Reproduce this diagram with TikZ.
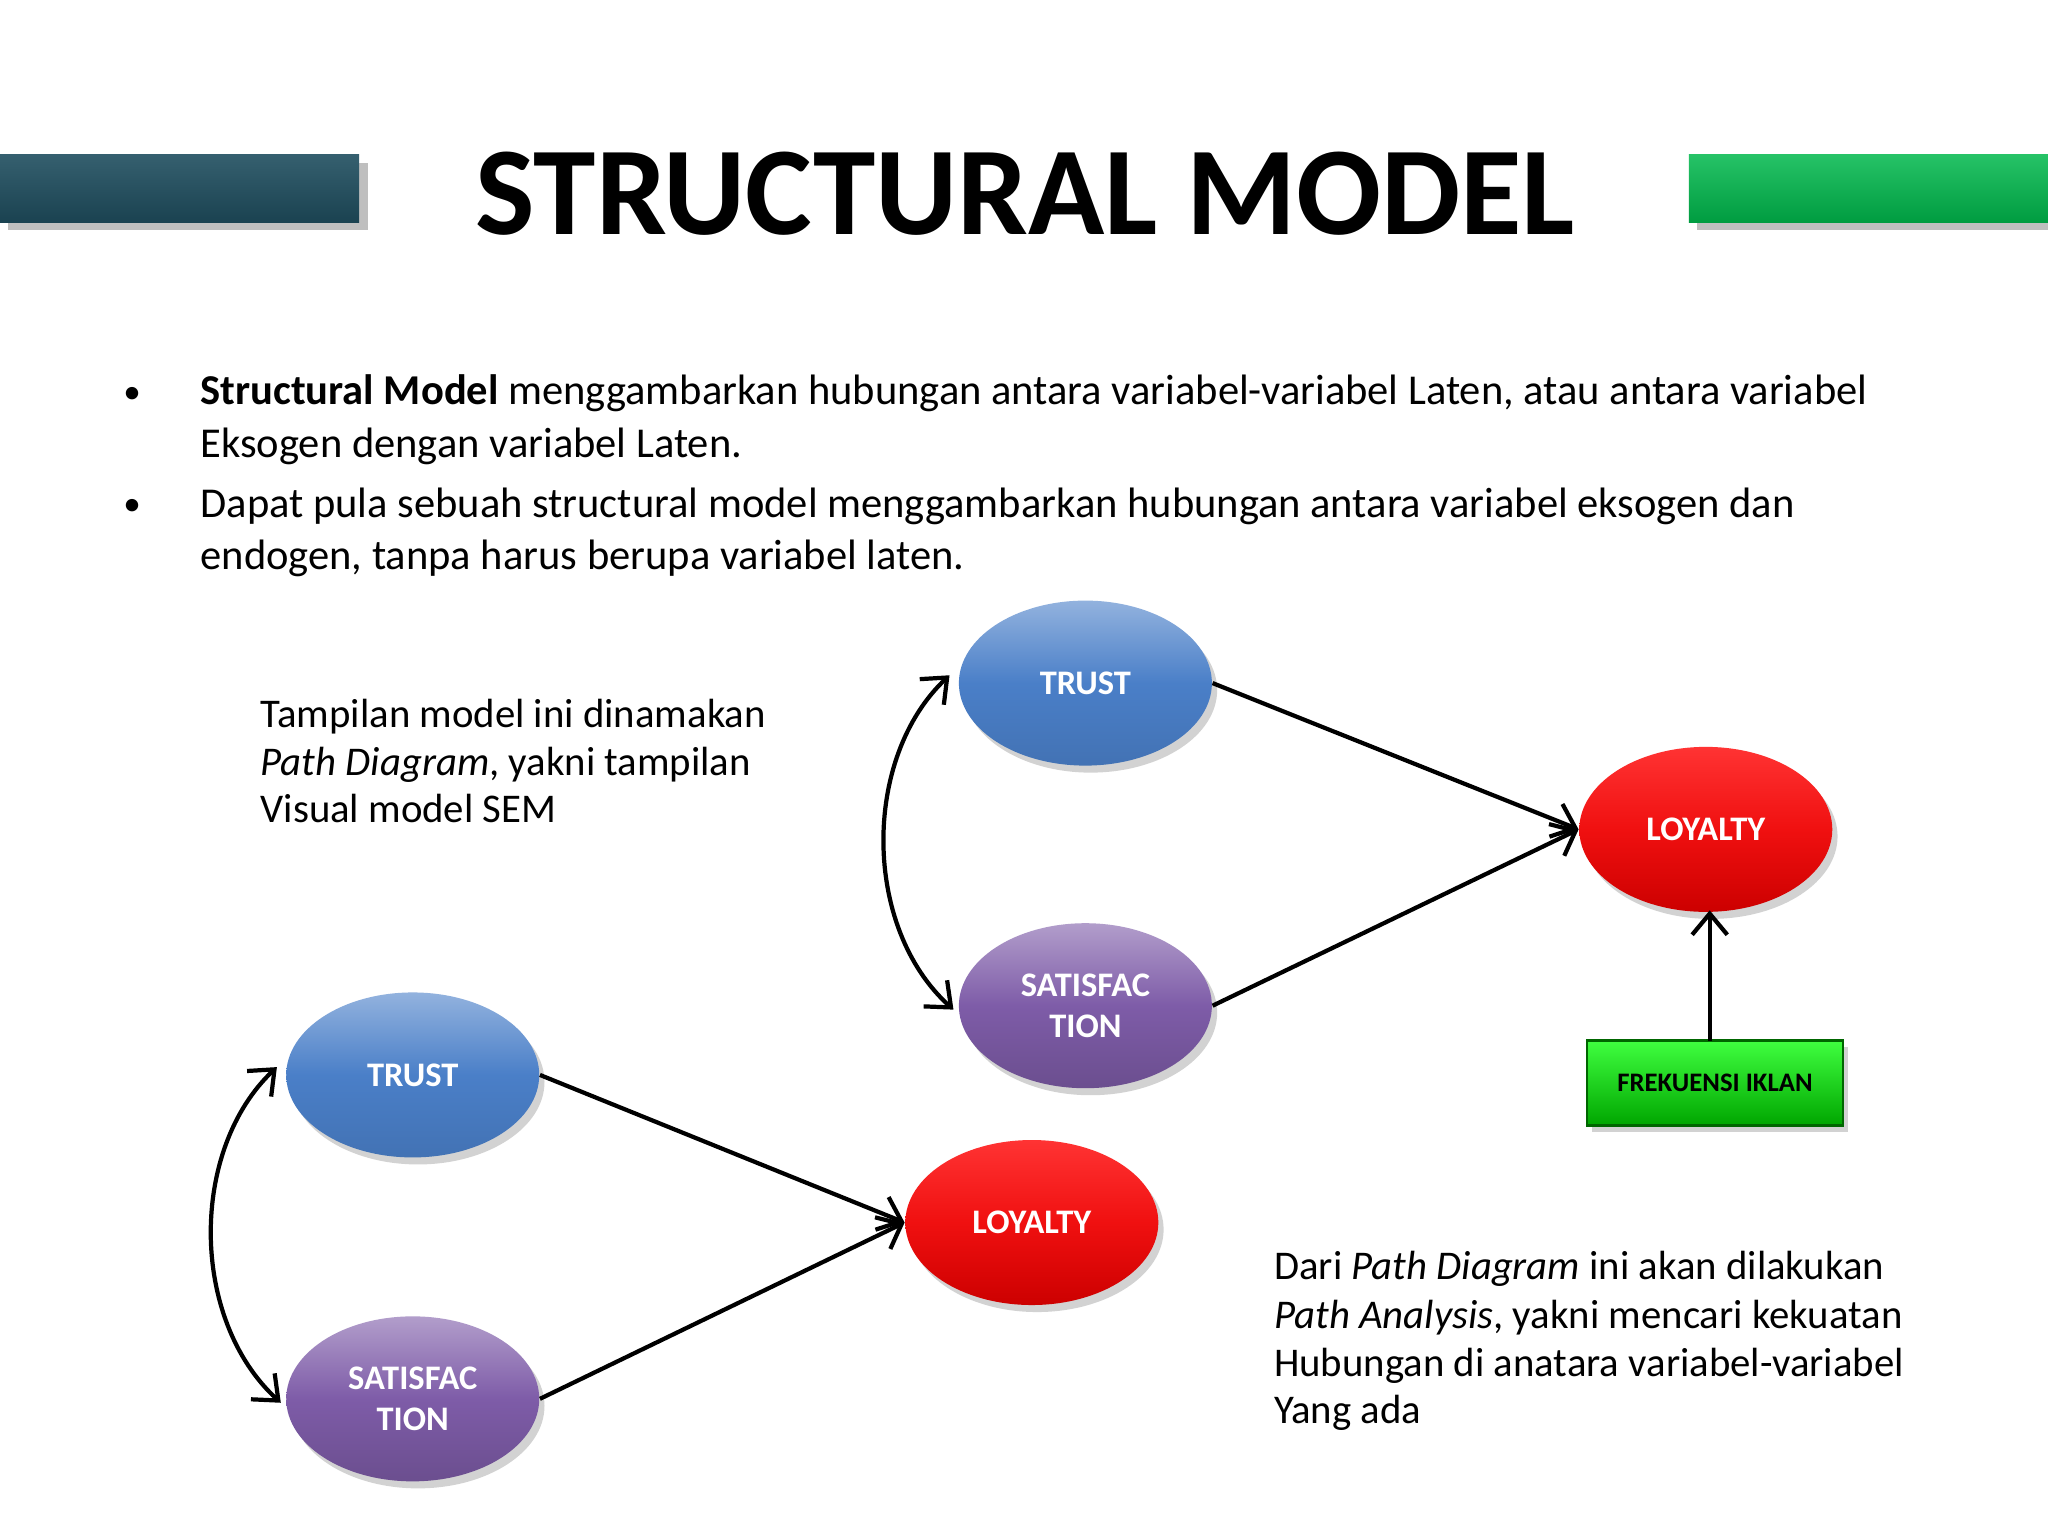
\documentclass[tikz,border=0pt]{standalone}
\usepackage{fontspec}
\setmainfont{Carlito}
\usetikzlibrary{shapes.geometric,arrows.meta,shadows}
\definecolor{tblue}{HTML}{4A7FC8}
\definecolor{tpurp}{HTML}{7E5CA8}
\definecolor{tred}{HTML}{F01010}
\definecolor{bar1}{HTML}{1F4E5F}
\definecolor{bar2}{HTML}{00B84C}
\begin{document}
\begin{tikzpicture}[x=0.013061cm,y=-0.013061cm,
  el/.style={ellipse,inner sep=0pt,text=white,font=\fontsize{9.8pt}{11.5pt}\selectfont\bfseries,align=center,drop shadow={shadow xshift=1.5pt,shadow yshift=-2pt,opacity=.35}},
  ell/.style={el,minimum width=2.53cm,minimum height=1.65cm},
  blue/.style={ell,top color=tblue!60!white,bottom color=tblue!90!black,middle color=tblue},
  purp/.style={ell,top color=tpurp!60!white,bottom color=tpurp!85!black,middle color=tpurp},
  red/.style={ell,top color=red!80!white,bottom color=red!80!black,middle color=tred},
  arr/.style={-{Straight Barb[length=6pt,width=10pt]},line width=1.2pt},
  darr/.style={{Straight Barb[length=6pt,width=10pt]}-{Straight Barb[length=6pt,width=10pt]},line width=1.2pt},
  body/.style={font=\fontsize{12.1pt}{14pt}\selectfont,anchor=base west,inner sep=0pt},
  side/.style={body,font=\fontsize{11.6pt}{14pt}\selectfont}]
\useasboundingbox (0,0) rectangle (1568,1176);
\fill[white] (0,0) rectangle (1568,1176);
\shade[top color=bar1!90!white,bottom color=bar1!85!black,drop shadow] (0,118) rectangle (275,170);
\shade[top color=bar2!85!white,bottom color=bar2!85!black,drop shadow] (1293,118) rectangle (1568,170);
\node[font=\fontsize{35.8pt}{38pt}\selectfont\bfseries] (title) at (785,148) {STRUCTURAL MODEL};
\node[body,font=\fontsize{10pt}{12pt}\selectfont] (b1) at (94,309) {•};
\node[body,font=\fontsize{10pt}{12pt}\selectfont] (b2) at (94,395) {•};
\node[body] (l1) at (153,310) {\textbf{Structural Model} menggambarkan hubungan antara variabel-variabel Laten, atau antara variabel};
\node[body] (l2) at (153,350) {Eksogen dengan variabel Laten.};
\node[body] (l3) at (153,396) {Dapat pula sebuah structural model menggambarkan hubungan antara variabel eksogen dan};
\node[body] (l4) at (153,436) {endogen, tanpa harus berupa variabel laten.};
\node[side] (t1) at (199,557) {Tampilan model ini dinamakan};
\node[side] (t2) at (199,594) {\textit{Path Diagram}, yakni tampilan};
\node[side] (t3) at (199,630) {Visual model SEM};
\node[side] (d1) at (975,980) {Dari \textit{Path Diagram} ini akan dilakukan};
\node[side] (d2) at (975,1017) {\textit{Path Analysis}, yakni mencari kekuatan};
\node[side] (d3) at (975,1054) {Hubungan di anatara variabel-variabel};
\node[side] (d4) at (975,1090) {Yang ada};
% top diagram
\node[blue] (tr1) at (831,523) {TRUST};
\node[purp] (sa1) at (831,770) {SATISFAC\\TION};
\node[red] (lo1) at (1306,635) {LOYALTY};
\node[draw=green!40!black,line width=0.8pt,top color=green!75!white,bottom color=green!65!black,minimum width=2.56cm,minimum height=0.85cm,font=\fontsize{7.6pt}{9pt}\selectfont\bfseries,drop shadow={shadow xshift=1.5pt,shadow yshift=-2pt,opacity=.35}] (fr) at (1313,829) {FREKUENSI IKLAN};
\coordinate (fs) at (1309,797);
\coordinate (ft) at (1309,697);
\draw[arr] (tr1.east) -- (lo1.west);
\draw[arr] (sa1.east) -- (lo1.west);
\draw[arr] (fs) -- (ft);
\draw[darr] (727,517) .. controls (660,580) and (660,710) .. (730,773);
% bottom diagram
\node[blue] (tr2) at (316,823) {TRUST};
\node[purp] (sa2) at (316,1071) {SATISFAC\\TION};
\node[red] (lo2) at (790,936) {LOYALTY};
\draw[arr] (tr2.east) -- (lo2.west);
\draw[arr] (sa2.east) -- (lo2.west);
\draw[darr] (212,817) .. controls (145,880) and (145,1010) .. (215,1074);
\end{tikzpicture}
\end{document}
